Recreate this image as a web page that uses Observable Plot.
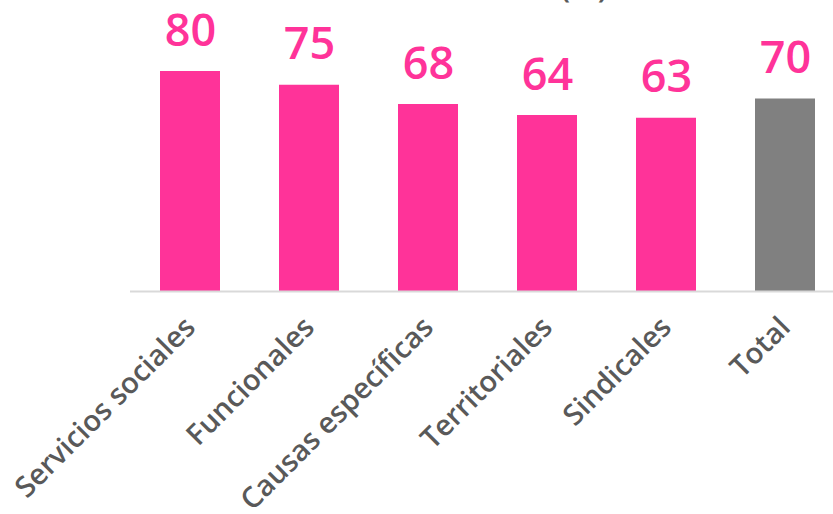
<!DOCTYPE html>
<html>
<head>
<meta charset="utf-8">
<script src="https://cdn.jsdelivr.net/npm/d3@7"></script>
<script src="https://cdn.jsdelivr.net/npm/@observablehq/plot@0.6"></script>
<style>
  html, body { margin: 0; padding: 0; background: #fff; overflow: hidden; }
  #wrap { position: relative; width: 833px; height: 514px; overflow: hidden; }
  #title { position: absolute; top: -37px; left: 0; width: 1168px; text-align: center; font: 600 32px "Open Sans", sans-serif; color: #595959; white-space: nowrap; }
  #chart { position: absolute; top: 0; left: 0; }
</style>
</head>
<body>
<div id="wrap">
  <div id="chart"></div>
  <div id="title">(%)</div>
</div>
<script>
const categories = ["Servicios sociales", "Funcionales", "Causas específicas", "Territoriales", "Sindicales", "Total"];
const values = [80, 75, 68, 64, 63, 70];
const colors = ["#FF3399", "#FF3399", "#FF3399", "#FF3399", "#FF3399", "#808080"];

const data = categories.map((c, i) => ({category: c, value: values[i], color: colors[i]}));

const chart = Plot.plot({
  width: 833,
  height: 514,
  marginLeft: 130,
  marginRight: 0,
  marginTop: 16,
  marginBottom: 223,
  style: {fontFamily: "'Open Sans', sans-serif", background: "#fff", overflow: "visible"},
  x: {domain: categories, range: [129.3, 845.7], paddingInner: 0.497, paddingOuter: 0.2485, label: null},
  y: {domain: [0, 100], axis: null},
  marks: [
    Plot.barY(data, {x: "category", y: "value", fill: "color"}),
    Plot.ruleY([0], {stroke: "#d9d9d9", strokeWidth: 2}),
    Plot.axisX({
      tickSize: 0,
      tickPadding: 31,
      tickRotate: -45,
      fontSize: 29,
      fontWeight: 600,
      fill: "#595959",
      label: null
    }),
    Plot.text(data, {
      x: "category", y: "value", text: d => String(d.value),
      fill: "#FF3399", fontSize: 45, fontWeight: 600,
      lineAnchor: "bottom", dy: -26
    })
  ]
});
document.getElementById("chart").appendChild(chart);
</script>
</body>
</html>
